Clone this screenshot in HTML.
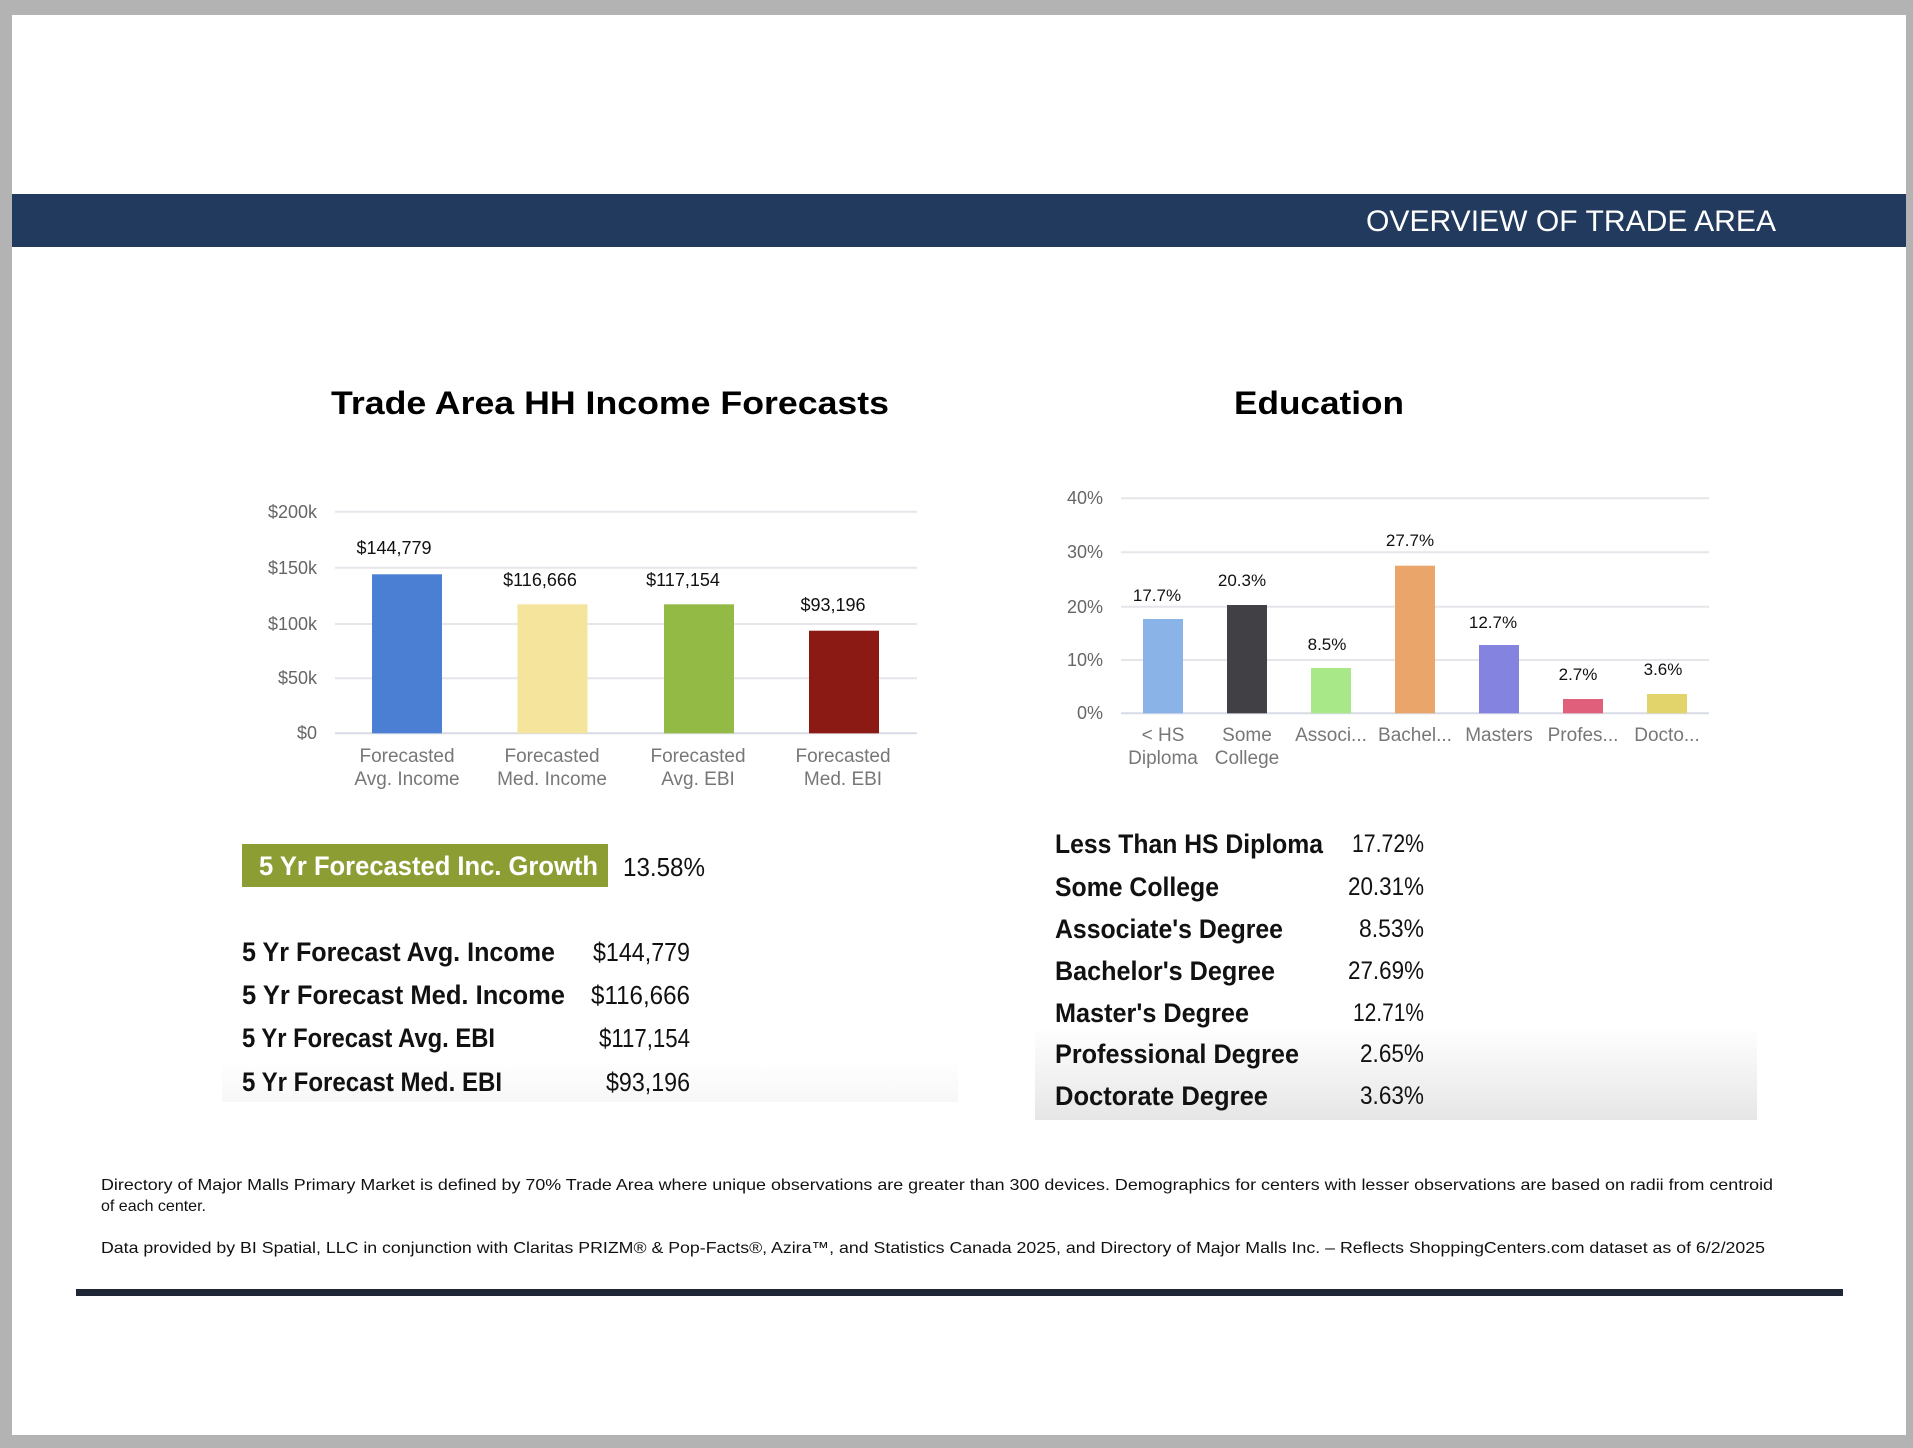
<!DOCTYPE html>
<html><head><meta charset="utf-8"><style>
html,body{margin:0;padding:0;background:#b3b3b3;}
svg{display:block}
text{font-family:"Liberation Sans",sans-serif;}
</style></head><body>
<svg width="1913" height="1448" viewBox="0 0 1913 1448" xmlns="http://www.w3.org/2000/svg">
<defs>
<linearGradient id="g1" x1="0" y1="0" x2="0" y2="1">
<stop offset="0" stop-color="#ffffff"/><stop offset="1" stop-color="#e6e6e6"/>
</linearGradient>
<linearGradient id="g2" x1="0" y1="0" x2="0" y2="1">
<stop offset="0" stop-color="#ffffff"/><stop offset="1" stop-color="#f7f7f7"/>
</linearGradient>
</defs>
<rect x="0" y="0" width="1913" height="1448" fill="#b3b3b3"/>
<rect x="12" y="15" width="1894" height="1420" fill="#ffffff"/>
<rect x="12" y="194" width="1894" height="53" fill="#213a5e"/>
<text x="1366" y="231" font-size="30" fill="#fff" textLength="410" lengthAdjust="spacingAndGlyphs">OVERVIEW OF TRADE AREA</text>

<text x="331" y="414" font-size="32" font-weight="bold" fill="#000" textLength="558" lengthAdjust="spacingAndGlyphs">Trade Area HH Income Forecasts</text>
<text x="1234" y="414" font-size="32" font-weight="bold" fill="#000" textLength="170" lengthAdjust="spacingAndGlyphs">Education</text>

<!-- Income chart -->
<g stroke="#e6e6ea" stroke-width="2">
<line x1="335" y1="511.7" x2="917" y2="511.7"/>
<line x1="335" y1="567.7" x2="917" y2="567.7"/>
<line x1="335" y1="624" x2="917" y2="624"/>
<line x1="335" y1="678.3" x2="917" y2="678.3"/>
<line x1="335" y1="733.3" x2="917" y2="733.3" stroke="#d8dbe6"/>
</g>
<g font-size="18" fill="#666" text-anchor="end">
<text x="317" y="518">$200k</text>
<text x="317" y="574">$150k</text>
<text x="317" y="630">$100k</text>
<text x="317" y="684">$50k</text>
<text x="317" y="739">$0</text>
</g>
<rect x="372" y="574.3" width="70" height="159" fill="#4a7fd4"/>
<rect x="517.5" y="604.3" width="70" height="129" fill="#f5e49c"/>
<rect x="664" y="604.3" width="70" height="129" fill="#93ba44"/>
<rect x="809" y="630.7" width="70" height="102.6" fill="#8b1a14"/>
<g font-size="18" fill="#111" text-anchor="middle">
<text x="394" y="554">$144,779</text>
<text x="540" y="586">$116,666</text>
<text x="683" y="586">$117,154</text>
<text x="833" y="611">$93,196</text>
</g>
<g font-size="19" fill="#777" text-anchor="middle">
<text x="407" y="762">Forecasted</text><text x="407" y="785">Avg. Income</text>
<text x="552" y="762">Forecasted</text><text x="552" y="785">Med. Income</text>
<text x="698" y="762">Forecasted</text><text x="698" y="785">Avg. EBI</text>
<text x="843" y="762">Forecasted</text><text x="843" y="785">Med. EBI</text>
</g>

<!-- Education chart -->
<g stroke="#e6e6ea" stroke-width="2">
<line x1="1121" y1="498.3" x2="1709" y2="498.3"/>
<line x1="1121" y1="552.3" x2="1709" y2="552.3"/>
<line x1="1121" y1="606.7" x2="1709" y2="606.7"/>
<line x1="1121" y1="660" x2="1709" y2="660"/>
<line x1="1121" y1="713.3" x2="1709" y2="713.3" stroke="#d8dbe6"/>
</g>
<g font-size="18" fill="#666" text-anchor="end">
<text x="1103" y="504">40%</text>
<text x="1103" y="558">30%</text>
<text x="1103" y="613">20%</text>
<text x="1103" y="666">10%</text>
<text x="1103" y="719">0%</text>
</g>
<rect x="1143" y="619" width="40" height="94.3" fill="#8ab4e8"/>
<rect x="1227" y="605" width="40" height="108.3" fill="#414045"/>
<rect x="1311" y="668" width="40" height="45.3" fill="#a8e888"/>
<rect x="1395" y="565.7" width="40" height="147.6" fill="#eaa66a"/>
<rect x="1479" y="645" width="40" height="68.3" fill="#8484e0"/>
<rect x="1563" y="699" width="40" height="14.3" fill="#e0607c"/>
<rect x="1647" y="694" width="40" height="19.3" fill="#e2d36a"/>
<g font-size="17" fill="#111" text-anchor="middle">
<text x="1157" y="601">17.7%</text>
<text x="1242" y="586">20.3%</text>
<text x="1327" y="650">8.5%</text>
<text x="1410" y="546">27.7%</text>
<text x="1493" y="628">12.7%</text>
<text x="1578" y="680">2.7%</text>
<text x="1663" y="675">3.6%</text>
</g>
<g font-size="19" fill="#777" text-anchor="middle">
<text x="1163" y="741">&lt; HS</text><text x="1163" y="764">Diploma</text>
<text x="1247" y="741">Some</text><text x="1247" y="764">College</text>
<text x="1331" y="741">Associ...</text>
<text x="1415" y="741">Bachel...</text>
<text x="1499" y="741">Masters</text>
<text x="1583" y="741">Profes...</text>
<text x="1667" y="741">Docto...</text>
</g>

<!-- Left table -->
<rect x="222" y="1060" width="736" height="42" fill="url(#g2)"/>
<rect x="242" y="844" width="366" height="43" fill="#8c9e33"/>
<text x="259" y="875" font-size="27" font-weight="bold" fill="#fff" textLength="339" lengthAdjust="spacingAndGlyphs">5 Yr Forecasted Inc. Growth</text>
<text x="623" y="876" font-size="26" fill="#111" textLength="82" lengthAdjust="spacingAndGlyphs">13.58%</text>
<g font-size="27" font-weight="bold" fill="#111">
<text x="242" y="961" textLength="313" lengthAdjust="spacingAndGlyphs">5 Yr Forecast Avg. Income</text>
<text x="242" y="1004" textLength="323" lengthAdjust="spacingAndGlyphs">5 Yr Forecast Med. Income</text>
<text x="242" y="1047" textLength="253" lengthAdjust="spacingAndGlyphs">5 Yr Forecast Avg. EBI</text>
<text x="242" y="1091" textLength="260" lengthAdjust="spacingAndGlyphs">5 Yr Forecast Med. EBI</text>
</g>
<g font-size="26" fill="#111">
<text x="593" y="961" textLength="97" lengthAdjust="spacingAndGlyphs">$144,779</text>
<text x="591" y="1004" textLength="99" lengthAdjust="spacingAndGlyphs">$116,666</text>
<text x="599" y="1047" textLength="91" lengthAdjust="spacingAndGlyphs">$117,154</text>
<text x="606" y="1091" textLength="84" lengthAdjust="spacingAndGlyphs">$93,196</text>
</g>

<!-- Right table -->
<rect x="1035" y="1027" width="722" height="93" fill="url(#g1)"/>
<g font-size="27" font-weight="bold" fill="#111">
<text x="1055" y="853" textLength="268" lengthAdjust="spacingAndGlyphs">Less Than HS Diploma</text>
<text x="1055" y="896" textLength="164" lengthAdjust="spacingAndGlyphs">Some College</text>
<text x="1055" y="938" textLength="228" lengthAdjust="spacingAndGlyphs">Associate's Degree</text>
<text x="1055" y="980" textLength="220" lengthAdjust="spacingAndGlyphs">Bachelor's Degree</text>
<text x="1055" y="1022" textLength="194" lengthAdjust="spacingAndGlyphs">Master's Degree</text>
<text x="1055" y="1063" textLength="244" lengthAdjust="spacingAndGlyphs">Professional Degree</text>
<text x="1055" y="1105" textLength="213" lengthAdjust="spacingAndGlyphs">Doctorate Degree</text>
</g>
<g font-size="25" fill="#111">
<text x="1352" y="852" textLength="72" lengthAdjust="spacingAndGlyphs">17.72%</text>
<text x="1348" y="895" textLength="76" lengthAdjust="spacingAndGlyphs">20.31%</text>
<text x="1359" y="937" textLength="65" lengthAdjust="spacingAndGlyphs">8.53%</text>
<text x="1348" y="979" textLength="76" lengthAdjust="spacingAndGlyphs">27.69%</text>
<text x="1353" y="1021" textLength="71" lengthAdjust="spacingAndGlyphs">12.71%</text>
<text x="1360" y="1062" textLength="64" lengthAdjust="spacingAndGlyphs">2.65%</text>
<text x="1360" y="1104" textLength="64" lengthAdjust="spacingAndGlyphs">3.63%</text>
</g>

<!-- Footnotes -->
<g font-size="16" fill="#111">
<text x="101" y="1190" textLength="1672" lengthAdjust="spacingAndGlyphs">Directory of Major Malls Primary Market is defined by 70% Trade Area where unique observations are greater than 300 devices. Demographics for centers with lesser observations are based on radii from centroid</text>
<text x="101" y="1211">of each center.</text>
<text x="101" y="1253" textLength="1664" lengthAdjust="spacingAndGlyphs">Data provided by BI Spatial, LLC in conjunction with Claritas PRIZM® &amp; Pop-Facts®, Azira™, and Statistics Canada 2025, and Directory of Major Malls Inc. – Reflects ShoppingCenters.com dataset as of 6/2/2025</text>
</g>
<rect x="76" y="1289" width="1767" height="7" fill="#1f2736"/>
</svg>
</body></html>
